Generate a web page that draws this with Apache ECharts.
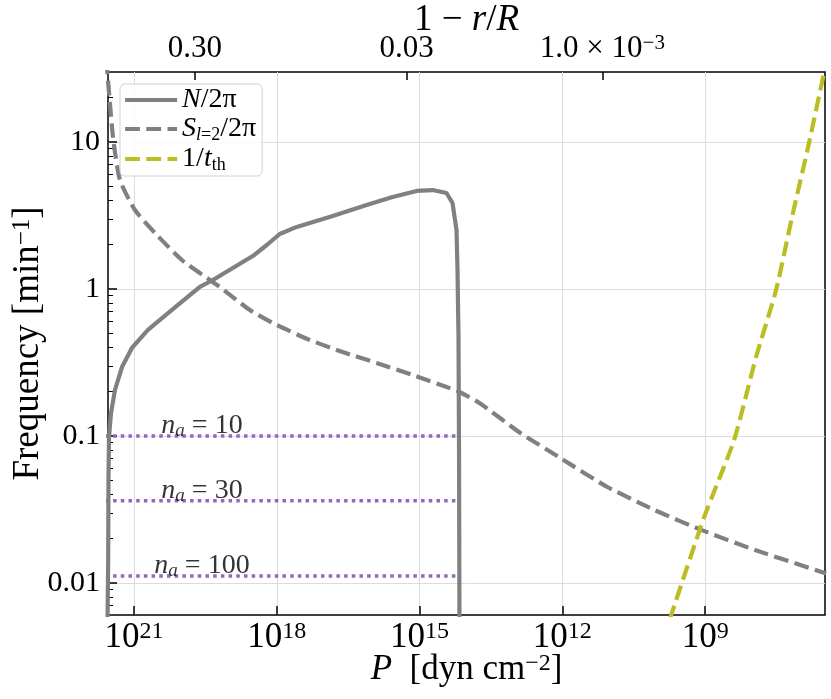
<!DOCTYPE html>
<html><head><meta charset="utf-8">
<script src="https://cdn.jsdelivr.net/npm/echarts@6/dist/echarts.min.js"></script>
<style>html,body{margin:0;padding:0;background:#fff}#c{width:831px;height:699px}</style>
</head><body><div id="c"></div>
<script>
// All values are log10: x = log10 P [dyn cm^-2], y = log10 frequency [min^-1]
const nLogP = [21.56, 21.541, 21.535, 21.524, 21.482, 21.398, 21.251, 21.042, 20.706, 20.202, 19.615, 19.342, 18.923, 18.503, 18.210, 17.937, 17.580, 16.825, 16.112, 15.567, 15.063, 14.727, 14.434, 14.308, 14.224, 14.203, 14.182, 14.171, 14.161];
const nLogF = [-2.4, -1.844, -1.299, -1.007, -0.844, -0.687, -0.531, -0.401, -0.279, -0.143, 0.014, 0.061, 0.143, 0.224, 0.299, 0.374, 0.422, 0.497, 0.571, 0.626, 0.667, 0.673, 0.653, 0.585, 0.401, 0.129, -0.327, -1.095, -2.4];
const sLogP = [21.58, 21.44, 21.293, 20.979, 20.559, 19.993, 19.405, 19.196, 18.566, 18.0, 17.307, 16.615, 15.902, 15.147, 14.432, 14.161, 13.741, 12.881, 12.042, 11.056, 10.07, 9.084, 7.952, 6.46];
const sLogF = [1.56, 1.034, 0.741, 0.537, 0.381, 0.197, 0.061, 0.014, -0.143, -0.245, -0.347, -0.429, -0.503, -0.585, -0.667, -0.701, -0.776, -0.98, -1.15, -1.347, -1.503, -1.639, -1.776, -1.935];
const tLogP = [9.75, 9.714, 9.021, 8.392, 7.931, 7.511, 7.175, 6.819, 6.504, 6.47];
const tLogF = [-2.25, -2.218, -1.551, -1.027, -0.463, -0.007, 0.49, 0.993, 1.469, 1.5];
const naValues = [10, 30, 100];
const naLogF = [-1.0, -1.44, -1.952];
const naLineLogP = [21.6, 14.2];
const naLabelLogP = 19.57;
const bottomTicks = [9, 12, 15, 18, 21];
const yTicks = [-2, -1, 0, 1];
const yTickLabels = ['0.01', '0.1', '1', '10'];
const topTickPos = [19.72, 15.27, 11.16];
const topTickLabels = ['0.30', '0.03', '1.0 × 10^−3'];
const xRange = [6.483, 21.545];
const yRange = [-2.218, 1.476];

const SERIF = '"Liberation Serif", "DejaVu Serif", serif';
const GRAY = '#808080', OLIVE = '#bcbd22', PURPLE = '#9467bd';
const DASH = [14.8, 6.4];

const minorY = [];
for (let n = -3; n <= 1; n++) for (let k = 2; k <= 9; k++) {
  const v = Math.log10(k) + n;
  if (v > yRange[0] && v < yRange[1]) minorY.push(v);
}
const zip = (a, b) => a.map((v, i) => [v, b[i]]);
const supText = s => { const p = s.split('^'); return '{r|' + p[0] + '}' + (p[1] ? '{sup|' + p[1] + '}' : ''); };

function richSet(size) {
  return {
    r: { fontFamily: SERIF, fontSize: size, color: '#000' },
    it: { fontFamily: SERIF, fontStyle: 'italic', fontSize: size, color: '#000' },
    sup: { fontFamily: SERIF, fontSize: Math.round(size * 0.68), lineHeight: Math.round(size * 0.6), verticalAlign: 'top', color: '#000' }
  };
}
const legRich = {
  it: { fontStyle: 'italic', fontFamily: SERIF, fontSize: 28, lineHeight: 30, color: '#000' },
  r: { fontFamily: SERIF, fontSize: 28, lineHeight: 30, color: '#000' },
  sub: { fontFamily: SERIF, fontSize: 18, lineHeight: 17, verticalAlign: 'bottom', color: '#000' },
  subi: { fontFamily: SERIF, fontStyle: 'italic', fontSize: 18, lineHeight: 17, verticalAlign: 'bottom', color: '#000' }
};
const legendText = {
  'N/2π': '{it|N}{r|/2π}',
  'S_l=2/2π': '{it|S}{subi|l}{sub|=2}{r|/2π}',
  '1/t_th': '{r|1/}{it|t}{sub|th}'
};

const series = [
  { name: 'N/2π', type: 'line', data: zip(nLogP, nLogF), showSymbol: false, symbol: 'none',
    lineStyle: { color: GRAY, width: 4.2 }, itemStyle: { color: GRAY }, z: 3 },
  { name: 'S_l=2/2π', type: 'line', data: zip(sLogP, sLogF), showSymbol: false, symbol: 'none', smooth: 0.2,
    lineStyle: { color: GRAY, width: 4.2, type: DASH }, itemStyle: { color: GRAY }, z: 3 },
  { name: '1/t_th', type: 'line', data: zip(tLogP, tLogF), showSymbol: false, symbol: 'none', smooth: 0.2,
    lineStyle: { color: OLIVE, width: 4.2, type: DASH }, itemStyle: { color: OLIVE }, z: 3 }
];
naValues.forEach((na, i) => {
  series.push({ name: 'na' + na, type: 'line', data: naLineLogP.map(p => [p, naLogF[i]]),
    showSymbol: false, symbol: 'none', lineStyle: { color: PURPLE, width: 3.5, type: [3.5, 4.2] }, z: 2 });
  series.push({ name: 'nalabel' + na, type: 'scatter', data: [[naLabelLogP, naLogF[i]]], symbolSize: 0,
    silent: true, z: 4,
    label: { show: true, position: 'top', distance: 0, offset: [0, 5],
      formatter: '{it|n}{sub|a}{r| = ' + na + '}',
      rich: {
        it: { fontStyle: 'italic', fontFamily: SERIF, fontSize: 28, lineHeight: 30, color: '#000' },
        r: { fontFamily: SERIF, fontSize: 28, lineHeight: 30, color: '#000' },
        sub: { fontFamily: SERIF, fontStyle: 'italic', fontSize: 19, lineHeight: 18, verticalAlign: 'bottom', color: '#000' }
      } } });
});

const legendLine = { 'N/2π': { color: GRAY, width: 4.2, type: 'solid' }, 'S_l=2/2π': { color: GRAY, width: 4.2, type: DASH }, '1/t_th': { color: OLIVE, width: 4.2, type: DASH } };

const chart = echarts.init(document.getElementById('c'), null, { renderer: 'canvas' });
chart.setOption({
  animation: false,
  backgroundColor: '#fff',
  grid: { left: 108, right: 6, top: 72, bottom: 84, outerBoundsMode: 'none', containLabel: false,
    show: true, borderColor: '#000', borderWidth: 1.5, backgroundColor: 'transparent' },
  legend: {
    data: ['N/2π', 'S_l=2/2π', '1/t_th'].map(n => ({ name: n, lineStyle: legendLine[n], itemStyle: { opacity: 0 } })),
    orient: 'vertical', left: 120, top: 84,
    itemWidth: 52, itemHeight: 14, itemGap: 1, padding: [2, 6, 2, 3],
    borderColor: '#d0d0d0', borderWidth: 1, borderRadius: 5, backgroundColor: 'rgba(255,255,255,0.85)',
    itemStyle: { opacity: 0 },
    formatter: n => legendText[n], textStyle: { fontFamily: SERIF, fontSize: 28, rich: legRich }
  },
  xAxis: [
    { type: 'value', position: 'bottom', inverse: true, min: xRange[0], max: xRange[1],
      axisLine: { show: false, onZero: false },
      axisTick: { show: true, inside: true, length: 9, customValues: bottomTicks, lineStyle: { color: '#000', width: 1.5 } },
      axisLabel: { customValues: bottomTicks, margin: 5, color: '#000',
        formatter: v => '{r|10}{sup|' + Math.round(v) + '}', rich: richSet(35) },
      splitLine: { show: true, lineStyle: { color: '#dcdcdc', width: 1 } },
      name: '{it|P  }{r|[dyn cm}{sup|−2}{r|]}', nameLocation: 'middle', nameGap: 37, nameMoveOverlap: false,
      nameTextStyle: { color: '#000', rich: richSet(35) } },
    { type: 'value', position: 'top', inverse: true, min: xRange[0], max: xRange[1],
      axisLine: { show: false, onZero: false },
      axisTick: { show: true, inside: true, length: 8, customValues: topTickPos, lineStyle: { color: '#000', width: 1.5 } },
      axisLabel: { customValues: topTickPos, margin: 8, color: '#000',
        formatter: v => supText(topTickLabels[topTickPos.findIndex(p => Math.abs(p - v) < 1e-6)]),
        rich: richSet(31) },
      splitLine: { show: false },
      name: '{r|1 − }{it|r}{r|/}{it|R}', nameLocation: 'middle', nameGap: 33, nameMoveOverlap: false,
      nameTextStyle: { color: '#000', rich: richSet(37) } }
  ],
  yAxis: [
    { type: 'value', position: 'left', min: yRange[0], max: yRange[1],
      axisLine: { show: false, onZero: false },
      axisTick: { show: true, inside: true, length: 9, customValues: yTicks, lineStyle: { color: '#000', width: 1.5 } },
      axisLabel: { customValues: yTicks, margin: 8, fontFamily: SERIF, fontSize: 30, color: '#000',
        formatter: v => yTickLabels[yTicks.findIndex(t => Math.abs(t - v) < 1e-6)] },
      splitLine: { show: true, lineStyle: { color: '#dcdcdc', width: 1 } },
      name: '{r|Frequency [min}{sup|−1}{r|]}', nameLocation: 'middle', nameGap: 61, nameMoveOverlap: false,
      nameTextStyle: { color: '#000', rich: richSet(37) } },
    { type: 'value', position: 'left', min: yRange[0], max: yRange[1],
      axisLine: { show: false, onZero: false },
      axisTick: { show: true, inside: true, length: 5, customValues: minorY, lineStyle: { color: '#000', width: 1 } },
      axisLabel: { show: false }, splitLine: { show: false } }
  ],
  series: series
});
</script></body></html>
